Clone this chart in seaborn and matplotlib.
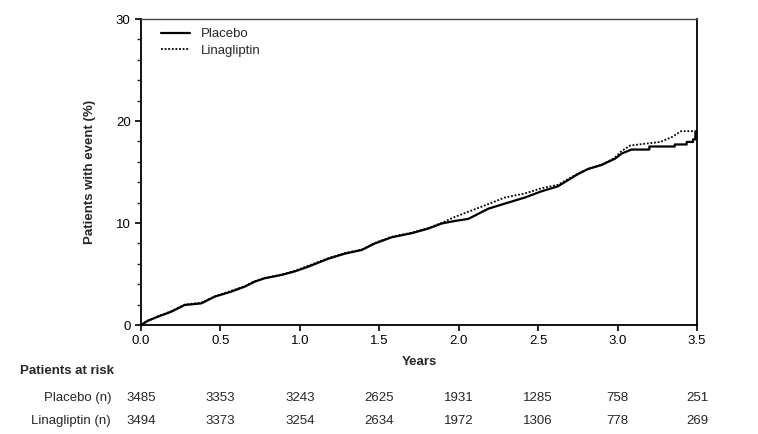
import matplotlib
matplotlib.use("Agg")
import matplotlib.pyplot as plt
from matplotlib.ticker import MultipleLocator
import seaborn as sns
import pandas as pd

# --- data ---
placebo_t = [0, 0.044, 0.107, 0.19, 0.275, 0.38, 0.464, 0.568, 0.653, 0.716, 0.778, 0.883,
             0.967, 1.05, 1.179, 1.284, 1.389, 1.473, 1.578, 1.704, 1.808, 1.892, 1.976, 2.06,
             2.186, 2.29, 2.417, 2.52, 2.625, 2.751, 2.815, 2.9, 2.983, 3.025, 3.087,
             3.2, 3.2, 3.36, 3.36, 3.435, 3.435, 3.475, 3.475, 3.49, 3.49, 3.5]
placebo_y = [0, 0.42, 0.82, 1.3, 1.96, 2.12, 2.78, 3.27, 3.76, 4.25, 4.58, 4.9,
             5.25, 5.7, 6.5, 7.0, 7.35, 8.0, 8.6, 9.0, 9.45, 9.95, 10.2, 10.4,
             11.4, 11.9, 12.5, 13.1, 13.6, 14.8, 15.3, 15.7, 16.3, 16.8, 17.2,
             17.2, 17.5, 17.5, 17.7, 17.7, 17.95, 17.95, 18.2, 18.2, 18.95, 18.95]

lina_t = [0, 0.044, 0.107, 0.19, 0.275, 0.38, 0.464, 0.568, 0.653, 0.716, 0.778, 0.883,
          0.967, 1.05, 1.179, 1.284, 1.389, 1.473, 1.578, 1.704, 1.808, 1.892, 1.976, 2.06,
          2.186, 2.29, 2.417, 2.52, 2.625, 2.751, 2.815, 2.9, 2.983, 3.025, 3.08,
          3.27, 3.345, 3.40, 3.5]
lina_y = [0, 0.45, 0.85, 1.35, 2.0, 2.2, 2.8, 3.35, 3.8, 4.3, 4.6, 4.95,
          5.3, 5.8, 6.55, 7.05, 7.4, 8.05, 8.65, 9.05, 9.5, 10.0, 10.6, 11.1,
          11.85, 12.5, 12.9, 13.4, 13.75, 14.85, 15.3, 15.7, 16.4, 17.05, 17.6,
          17.95, 18.45, 19.0, 19.0]

risk_times = [0.0, 0.5, 1.0, 1.5, 2.0, 2.5, 3.0, 3.5]
risk_placebo = [3485, 3353, 3243, 2625, 1931, 1285, 758, 251]
risk_lina = [3494, 3373, 3254, 2634, 1972, 1306, 778, 269]
series_names = ["Placebo", "Linagliptin"]
risk_labels = ["Placebo (n)", "Linagliptin (n)"]

sns.set_style("ticks")
plt.rcParams["font.family"] = ["Liberation Sans", "DejaVu Sans"]
FS = 9.5

fig = plt.figure(figsize=(7.58, 4.34), dpi=100)
ax = fig.add_axes([141 / 758, 1 - 325 / 434, (697 - 141) / 758, (325 - 19) / 434])

df_p = pd.DataFrame({"t": placebo_t, "y": placebo_y})
df_l = pd.DataFrame({"t": lina_t, "y": lina_y})
sns.lineplot(data=df_p, x="t", y="y", ax=ax, color="black", lw=1.6,
             estimator=None, sort=False, label=series_names[0])
sns.lineplot(data=df_l, x="t", y="y", ax=ax, color="black", lw=1.3,
             estimator=None, sort=False, label=series_names[1], linestyle=(0, (1, 1)))

ax.set_xlim(0, 3.5)
ax.set_ylim(0, 30)
ax.yaxis.set_major_locator(MultipleLocator(10))
ax.yaxis.set_minor_locator(MultipleLocator(2))
ax.set_xticks(risk_times)
ax.set_xticklabels([f"{v:.1f}" for v in risk_times])
ax.tick_params(axis="both", which="major", direction="out", length=4, width=1.2,
               labelsize=FS, colors="black")
ax.tick_params(axis="y", which="minor", direction="out", length=3, width=1.0)
for s in ax.spines.values():
    s.set_visible(True)
    s.set_linewidth(1.3)
    s.set_color("black")
ax.spines["top"].set_linewidth(1.0)
ax.spines["top"].set_color("#444444")

ax.set_xlabel("Years", fontsize=FS, fontweight="bold", labelpad=6)
ax.set_ylabel("Patients with event (%)", fontsize=FS, fontweight="bold", labelpad=14)

leg = ax.legend(loc="upper left", frameon=False, fontsize=FS, handlelength=2.2,
                bbox_to_anchor=(0.02, 1.0), borderaxespad=0.3, labelspacing=0.3)

# Patients at risk table
fig.text(20 / 758, 1 - 371 / 434, "Patients at risk", fontsize=FS, fontweight="bold",
         ha="left", va="center")
for row, (lab, vals) in enumerate(zip(risk_labels, [risk_placebo, risk_lina])):
    ypix = 398 + row * 23
    fig.text(111 / 758, 1 - ypix / 434, lab, fontsize=FS, ha="right", va="center")
    for t, v in zip(risk_times, vals):
        xfig = (141 + (697 - 141) * t / 3.5) / 758
        fig.text(xfig, 1 - ypix / 434, str(v), fontsize=FS, ha="center", va="center")

fig.savefig("out.png", dpi=100)
